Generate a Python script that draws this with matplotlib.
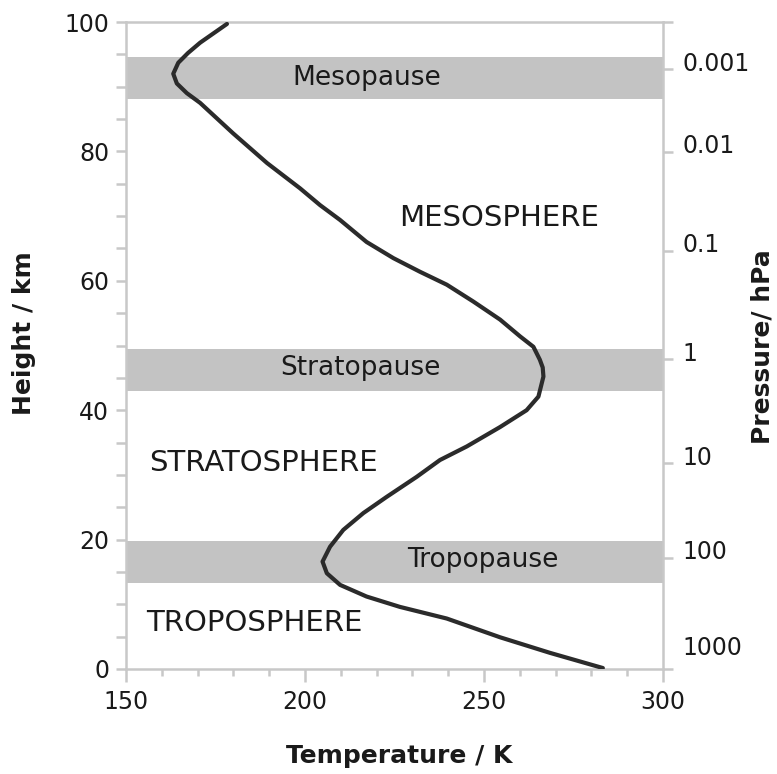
import matplotlib
matplotlib.use("Agg")
import matplotlib.pyplot as plt
from matplotlib.transforms import offset_copy

# temperature profile (top to bottom)
height_km = [99.7, 96.8, 95.2, 93.7, 92.0, 90.5, 89.0, 87.5, 82.8, 78.2, 74.3, 71.7,
             69.4, 66.0, 63.5, 61.4, 59.4, 56.8, 54.0, 51.4, 49.8, 47.8, 46.6, 45.2,
             42.1, 40.0, 37.4, 34.4, 32.3, 29.7, 26.6, 24.1, 21.5, 18.9, 16.6, 14.8,
             13.0, 11.2, 9.6, 7.8, 4.9, 2.5, 0.15]
temp_K = [178.2, 170.7, 167.3, 164.6, 163.2, 164.2, 167.0, 170.7, 179.9, 189.4, 198.6, 204.2,
          209.8, 217.2, 224.7, 232.1, 239.6, 247.0, 254.5, 260.1, 263.8, 265.6, 266.4, 266.6,
          265.2, 261.9, 254.5, 245.2, 237.7, 231.2, 222.8, 216.3, 210.7, 207.0, 204.9, 206.1,
          209.8, 217.2, 226.5, 239.6, 254.5, 268.4, 283.2]

# grey bands (bottom, top) in km
band_names = ["Mesopause", "Stratopause", "Tropopause"]
band_bottom = [88.1, 43.0, 13.3]
band_top = [94.6, 49.5, 19.8]
band_label_T = [217.3, 215.6, 249.7]
band_label_z = [91.3, 46.5, 16.8]

layer_names = ["MESOSPHERE", "STRATOSPHERE", "TROPOSPHERE"]
layer_T = [254.2, 188.5, 185.8]
layer_z = [69.7, 31.8, 7.1]

# pressure axis
pressure_labels = ["0.001", "0.01", "0.1", "1", "10", "100", "1000"]
pressure_heights = [92.7, 79.9, 64.6, 47.9, 31.8, 17.2, 0.0]

grey = "#c8c8c8"
ink = "#1a1a1a"

plt.rcParams['font.family'] = ['DejaVu Sans']

fig = plt.figure(figsize=(7.77, 7.74), dpi=100)
ax = fig.add_axes([126/777, 1-669/774, (663-126)/777, (669-22)/774])

for b0, b1 in zip(band_bottom, band_top):
    ax.axhspan(b0, b1, color="#c3c3c3", lw=0, zorder=1)
for name, t, z in zip(band_names, band_label_T, band_label_z):
    ax.text(t, z, name, ha="center", va="center", fontsize=19, color=ink, zorder=2)
for name, t, z in zip(layer_names, layer_T, layer_z):
    ax.text(t, z, name, ha="center", va="center", fontsize=21, color=ink, zorder=2)

ax.plot(temp_K, height_km, color="#2b2b2b", lw=3, solid_capstyle="round",
        solid_joinstyle="round", zorder=3)

ax.set_xlim(150, 300)
ax.set_ylim(0, 100)
ax.set_xticks([150, 200, 250, 300])
ax.set_xticks(range(160, 300, 10), minor=True)
ax.set_yticks(range(0, 101, 20))
ax.set_yticks(range(5, 100, 5), minor=True)

for s in ax.spines.values():
    s.set_color(grey)
    s.set_linewidth(1.8)
ax.tick_params(axis="both", which="both", color=grey, width=1.8, labelsize=17,
               labelcolor=ink)
ax.tick_params(axis="x", which="major", length=9, pad=6)
ax.tick_params(axis="x", which="minor", length=5)
ax.tick_params(axis="y", which="both", length=7, pad=5)

ax2 = ax.twinx()
ax2.set_ylim(0, 100)
ax2.set_yticks(pressure_heights)
ax2.set_yticks([100], minor=True)
ax2.set_yticklabels([])
ax2.tick_params(axis="y", which="both", color=grey, width=1.8, length=7)
for s in ax2.spines.values():
    s.set_visible(False)

for lab, h in zip(pressure_labels, pressure_heights):
    up = 15 if lab == "1000" else 4
    tr = offset_copy(ax2.get_yaxis_transform(), fig=fig, x=14, y=up, units="points")
    ax2.text(1.0, h, lab, transform=tr, ha="left", va="center", fontsize=17, color=ink)

# axis titles
fig.text(399/777, 1-756/774, "Temperature / K", ha="center", va="center",
         fontsize=18, fontweight="bold", color=ink)
fig.text(24/777, 1-333/774, "Height / km", ha="center", va="center", rotation=90,
         fontsize=18, fontweight="bold", color=ink)
fig.text(763/777, 1-347/774, "Pressure/ hPa", ha="center", va="center", rotation=90,
         fontsize=18, fontweight="bold", color=ink)

fig.savefig("out.png", dpi=100)
